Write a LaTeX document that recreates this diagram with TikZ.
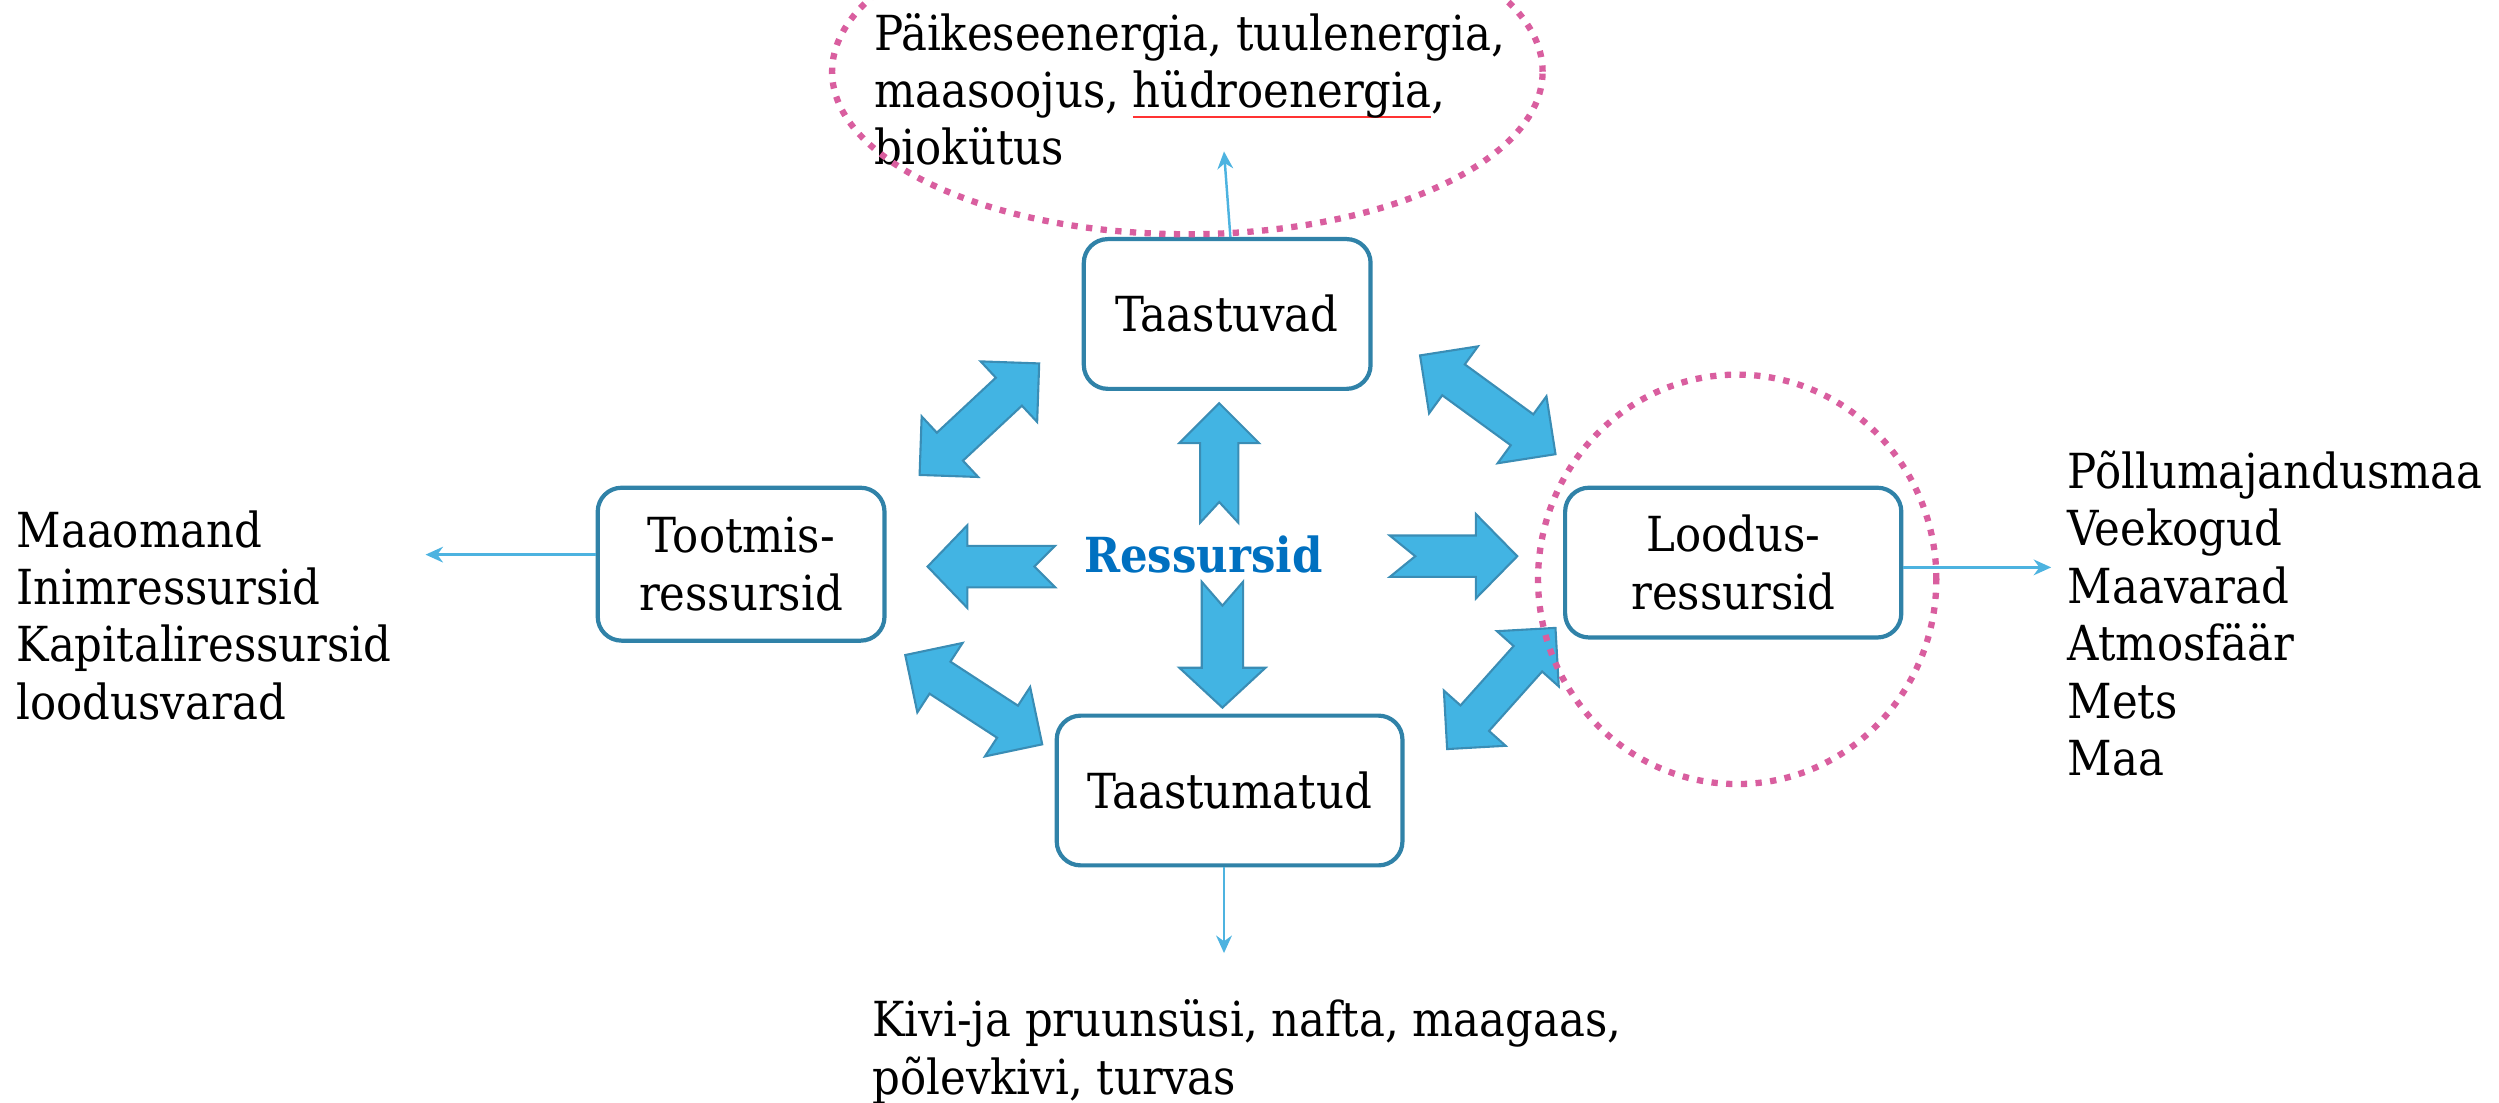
\documentclass[tikz,border=0pt]{standalone}
\usepackage{fontspec}
\setmainfont{DejaVu Serif Condensed}
\usetikzlibrary{calc,arrows.meta}
\definecolor{boxc}{HTML}{3082A8}
\definecolor{arrfill}{HTML}{42B4E3}
\definecolor{arrline}{HTML}{3A8DB5}
\definecolor{thinc}{HTML}{4DB3E0}
\definecolor{dotc}{HTML}{D95E9F}
\definecolor{ressc}{HTML}{0070C0}
\newcommand\spellmark[1]{\setbox0\hbox{#1}\rlap{\raisebox{-3pt}{\textcolor{red!80}{\rule{\wd0}{0.45pt}}}}\box0}
\newcommand\dblarr[4]{%
  \begin{scope}[shift={(#1,#2)},rotate=#3]
    \filldraw[blockarr] (0,0) -- (26,26) -- (26,12) -- ({#4-26},12) -- ({#4-26},26) -- (#4,0)
      -- ({#4-26},-26) -- ({#4-26},-12) -- (26,-12) -- (26,-26) -- cycle;
  \end{scope}}
\begin{document}
\begin{tikzpicture}[x=0.016cm,y=-0.016cm,
  every node/.style={font=\fontsize{13.8pt}{16.4pt}\selectfont, inner sep=0pt},
  box/.style={draw=boxc, line width=1.2pt, rounded corners=0.24cm, align=center, fill=white},
  blockarr/.style={fill=arrfill, draw=arrline, line width=0.6pt, line join=miter},
  thinarr/.style={draw=thinc, line width=0.7pt, -{Stealth[length=5pt,width=4.5pt]}},
  dotted ring/.style={draw=dotc, line width=1.8pt, dash pattern=on 1.8pt off 2.4pt},
  listtext/.style={align=left, anchor=west}]
\clip (0,0) rectangle (1568,692);
\useasboundingbox (0,0) rectangle (1568,692);

% boxes
\node[box, minimum width=2.88cm, minimum height=1.504cm] (ta) at (770,197) {Taastuvad};
\node[box, minimum width=2.88cm, minimum height=1.536cm] (to) at (465,354) {Tootmis-\\ressursid};
\node[box, minimum width=3.376cm, minimum height=1.504cm] (lo) at (1087.5,353) {Loodus-\\ressursid};
\node[box, minimum width=3.472cm, minimum height=1.504cm] (tm) at (771.5,496) {Taastumatud};

\node[text=ressc, font=\fontsize{13.8pt}{16.4pt}\selectfont\bfseries] (res) at (755,348) {Ressursid};

% straight notched block arrows
\filldraw[blockarr] (765,253) -- (790,278) -- (777,278) -- (777,328) -- (765,315) -- (753,328) -- (753,278) -- (740,278) -- cycle;
\filldraw[blockarr] (754,365) -- (767,380) -- (780,365) -- (780,419) -- (794,419) -- (767,444) -- (740,419) -- (754,419) -- cycle;
\filldraw[blockarr] (582,355.5) -- (607,329.5) -- (607,342.5) -- (662,342.5) -- (649,355.5) -- (662,368.5) -- (607,368.5) -- (607,381.5) -- cycle;
\filldraw[blockarr] (872,336) -- (926,336) -- (926,322.5) -- (952,349) -- (926,375.5) -- (926,362) -- (872,362) -- (888,349) -- cycle;

% double block arrows
\dblarr{577}{298}{43}{102.6}
\dblarr{891}{223}{-36.1}{105.2}
\dblarr{568}{411}{-33.1}{102.6}
\dblarr{908}{470}{48.2}{102}

% texts
\node[listtext] (toptext) at (548,56) {Päikeseenergia, tuulenergia,\\maasoojus, \spellmark{hüdroenergia},\\biokütus};
\node[listtext] (lefttext) at (10,386) {Maaomand\\Inimressursid\\Kapitaliressursid\\loodusvarad};
\node[listtext] (righttext) at (1297,385) {Põllumajandusmaa\\Veekogud\\Maavarad\\Atmosfäär\\Mets\\Maa};
\node[listtext] (bottext) at (547,660) {Kivi-ja pruunsüsi, nafta, maagaas,\\põlevkivi, turvas};

% thin connectors
\coordinate (tt) at (768,95);
\coordinate (lt) at (267,348);
\coordinate (rt) at (1287,356);
\coordinate (bt) at (768,598);
\draw[thinarr] ($(ta.north)+(2,0)$) -- (tt);
\draw[thinarr] (to.west |- lt) -- (lt);
\draw[thinarr] (lo.east |- rt) -- (rt);
\draw[thinarr] (tm.south -| bt) -- (bt);

% dotted rings (on top)
\draw[dotted ring] (745,45) ellipse [x radius=3.568cm, y radius=1.632cm];
\draw[dotted ring] (1090,363.5) ellipse [x radius=2.0cm, y radius=2.056cm];
\end{tikzpicture}
\end{document}
